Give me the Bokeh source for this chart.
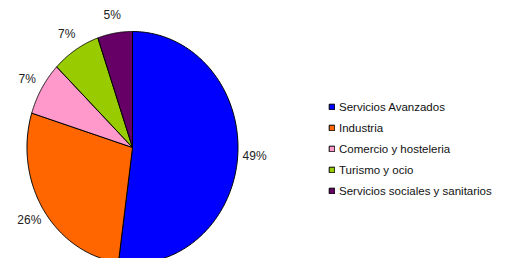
import numpy as np
from bokeh.plotting import figure
from bokeh.models import Legend, LegendItem, Range1d, ColumnDataSource, LabelSet
from bokeh.core.properties import value
from bokeh.embed import file_html
from bokeh.resources import INLINE

categories = ["Servicios Avanzados", "Industria", "Comercio y hosteleria",
              "Turismo y ocio", "Servicios sociales y sanitarios"]
values = [49, 26, 7, 7, 5]
labels = ["49%", "26%", "7%", "7%", "5%"]
colors = ["#0000FF", "#FF6600", "#FF99CC", "#99CC00", "#660066"]

W, H = 509, 258
cx, cy = 132, 147      # pie centre in canvas px
rx, ry = 105.5, 116.0  # px per data unit (x, y)

p = figure(width=W, height=H, output_backend="svg", toolbar_location=None,
           x_range=Range1d(-cx / rx, (W - cx) / rx),
           y_range=Range1d(-(H - cy) / ry, cy / ry),
           min_border=0, outline_line_color=None)
p.axis.visible = False
p.grid.visible = False

vals = np.array(values, dtype=float)
frac = vals / vals.sum()
start = np.concatenate([[0], np.cumsum(frac)[:-1]]) * 2 * np.pi
end = np.cumsum(frac) * 2 * np.pi

xs, ys = [], []
for a0, a1 in zip(start, end):
    t = np.linspace(a0, a1, 200)
    ang = np.pi / 2 - t  # clockwise from top
    xs.append(np.concatenate([[0], np.cos(ang), [0]]))
    ys.append(np.concatenate([[0], np.sin(ang), [0]]))

src = ColumnDataSource(dict(xs=xs, ys=ys, color=colors, cat=categories))
r = p.patches("xs", "ys", source=src, fill_color="color", line_color="black",
              line_width=1)

mid = np.pi / 2 - (start + end) / 2
lr = 1.16
lsrc = ColumnDataSource(dict(x=lr * np.cos(mid), y=lr * np.sin(mid), t=labels))
p.add_layout(LabelSet(x="x", y="y", text="t", source=lsrc,
                      text_font=value("Liberation Sans"), text_font_size="12px",
                      text_color="#222222", text_align="center",
                      text_baseline="middle"))

items = [LegendItem(label=c, renderers=[r], index=i) for i, c in enumerate(categories)]
legend = Legend(items=items, location=(328, 57), orientation="vertical",
                glyph_width=7, glyph_height=7, label_height=21, spacing=0,
                label_standoff=4, padding=0, margin=0,
                border_line_color=None, background_fill_alpha=0,
                label_text_font="Liberation Sans", label_text_font_size="11.5px",
                label_text_color="#111111")
p.add_layout(legend, "center")

open("out.html", "w").write(file_html(p, INLINE))
